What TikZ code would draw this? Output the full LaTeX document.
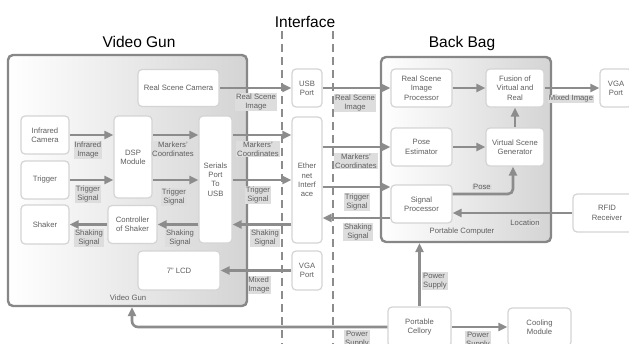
\documentclass[tikz,border=0pt]{standalone}
\usepackage{fontspec}
\setmainfont{Liberation Sans}
\usepackage{tikz}
\usetikzlibrary{shapes,arrows.meta,positioning,calc}
\definecolor{flowgray}{RGB}{140,140,140}
\definecolor{boxline}{RGB}{212,212,212}
\definecolor{boxtext}{RGB}{95,95,95}
\definecolor{sigfill}{RGB}{221,221,221}
\definecolor{groupline}{RGB}{135,135,135}
\definecolor{groupshade}{RGB}{212,212,212}
\tikzstyle{block} = [draw=boxline, fill=white, rectangle, rounded corners=4pt, line width=1.2pt, align=center, inner sep=1pt, text=boxtext, font=\fontsize{7.7}{9.3}\selectfont]
\tikzstyle{group} = [draw=groupline, rectangle, rounded corners=5pt, line width=2.4pt, left color=white, right color=groupshade]
\tikzstyle{grouplabel} = [text=boxtext, font=\fontsize{7.7}{9.3}\selectfont]
\tikzstyle{sig} = [fill=sigfill, text=boxtext, inner sep=0.8pt, align=center, font=\fontsize{7.7}{9.3}\selectfont]
\tikzstyle{flow} = [->, draw=flowgray, line width=2.6pt]
\tikzstyle{divider} = [draw=flowgray, dash pattern=on 8pt off 5pt, line width=1.4pt]
\tikzstyle{title} = [anchor=base, font=\fontsize{15.5}{18}\selectfont]

\begin{document}
\begin{tikzpicture}[x=1pt, y=-1pt, >={Triangle[length=9pt, width=8pt]}]
  \useasboundingbox (0,0) rectangle (629,343);

  % Containers
  \node [group, minimum width=239pt, minimum height=251pt] (vg) at (127.5,180.5) {};
  \node [group, minimum width=170pt, minimum height=185pt] (pc) at (466,149.5) {};
  \node [grouplabel] (vglab) at (128,298) {Video Gun};
  \node [grouplabel] (pclab) at (462,232) {Portable Computer};

  % Titles
  \node [title] (tvg) at (139,47) {Video Gun};
  \node [title] (tif) at (305,27) {Interface};
  \node [title] (tbb) at (462,47) {Back Bag};

  % Interface borders
  \coordinate (dla) at (282,31);
  \coordinate (dlb) at (282,350);
  \coordinate (dra) at (333,31);
  \coordinate (drb) at (333,350);
  \draw [divider] (dla) -- (dlb);
  \draw [divider] (dra) -- (drb);

  % Nodes
  \node [block, minimum width=81pt, minimum height=37pt] (rscam) at (178.5,88) {Real Scene Camera};
  \node [block, minimum width=48pt, minimum height=38pt] (ircam) at (45,135) {Infrared\\Camera};
  \node [block, minimum width=48pt, minimum height=38pt] (trig) at (45,180) {Trigger};
  \node [block, minimum width=48pt, minimum height=39pt] (shaker) at (45,224.5) {Shaker};
  \node [block, minimum width=38pt, minimum height=82pt] (dsp) at (133,157) {DSP\\Module};
  \node [block, minimum width=49pt, minimum height=38pt] (ctrl) at (132.5,224.5) {Controller\\of Shaker};
  \node [block, minimum width=33pt, minimum height=127pt] (serial) at (215.5,179.5) {Serials\\Port\\To\\USB};
  \node [block, minimum width=82pt, minimum height=39pt] (lcd) at (179,270.5) {7'' LCD};
  \node [block, minimum width=30pt, minimum height=38pt] (usb) at (307,88) {USB\\Port};
  \node [block, minimum width=30pt, minimum height=126pt] (eth) at (307,180) {Ether\\net\\Interf\\ace};
  \node [block, minimum width=30pt, minimum height=39pt] (vgai) at (307,270.5) {VGA\\Port};
  \node [block, minimum width=61pt, minimum height=38pt] (rsip) at (421.5,88) {Real Scene\\Image\\Processor};
  \node [block, minimum width=58pt, minimum height=38pt] (fusion) at (515,88) {Fusion of\\Virtual and\\Real};
  \node [block, minimum width=61pt, minimum height=38pt] (pose) at (421.5,147) {Pose\\Estimator};
  \node [block, minimum width=58pt, minimum height=38pt] (vsg) at (515,147) {Virtual Scene\\Generator};
  \node [block, minimum width=61pt, minimum height=38pt] (sigp) at (421.5,204) {Signal\\Processor};
  \node [block, minimum width=32pt, minimum height=38pt] (vgao) at (616,88) {VGA\\Port};
  \node [block, minimum width=68pt, minimum height=38pt] (rfid) at (607,213) {RFID\\Receiver};
  \node [block, minimum width=63pt, minimum height=40pt] (cell) at (419.5,327) {Portable\\Cellory};
  \node [block, minimum width=63pt, minimum height=38pt] (cool) at (539.5,327) {Cooling\\Module};

  % Path
  \coordinate (sigin) at ([yshift=17pt]sigp.west);
  \coordinate (sigout) at ([yshift=-14pt]sigp.west);
  \coordinate (vgin) at ([xshift=4.5pt]vg.south);
  \draw [flow] (rscam) -- (usb);
  \draw [flow] (ircam) -- (dsp.west |- ircam);
  \draw [flow] (trig) -- (dsp.west |- trig);
  \draw [flow] (dsp.east |- ircam) -- (serial.west |- ircam);
  \draw [flow] (dsp.east |- trig) -- (serial.west |- trig);
  \draw [flow] (serial.east |- ircam) -- (eth.west |- ircam);
  \draw [flow] (serial.east |- trig) -- (eth.west |- trig);
  \draw [flow] (eth.west |- shaker) -- (serial.east |- shaker);
  \draw [flow] (serial.west |- shaker) -- (ctrl);
  \draw [flow] (ctrl) -- (shaker);
  \draw [flow] (vgai) -- (lcd);
  \draw [flow] (usb) -- (rsip);
  \draw [flow] (eth.east |- pose) -- (pose);
  \draw [flow] (eth.east |- sigin) -- (sigin);
  \draw [flow] (sigout) -- (eth.east |- sigout);
  \draw [flow] (rsip) -- (fusion);
  \draw [flow] (pose) -- (vsg);
  \draw [flow] (vsg) -- (fusion);
  \draw [flow, rounded corners=5pt] ([yshift=10pt]sigp.east) -| ([xshift=-2pt]vsg.south);
  \draw [flow] (fusion) -- (vgao);
  \draw [flow] (rfid) -- (sigp.east |- rfid);
  \draw [flow] (cell) -- (cool);
  \draw [flow] (cell) -- (cell |- pc.south);
  \draw [flow, rounded corners=6pt] (cell) -| (vgin);

  % Annotations
  \node [sig] (l1) at (256,102) {Real Scene\\Image};
  \node [sig] (l2) at (88,150) {Infrared\\Image};
  \node [sig] (l3) at (88,194) {Trigger\\Signal};
  \node [sig] (l4) at (173,149) {Markers'\\Coordinates};
  \node [sig] (l5) at (174,197) {Trigger\\Signal};
  \node [sig] (l6) at (258,149) {Markers'\\Coordinates};
  \node [sig] (l7) at (258,195) {Trigger\\Signal};
  \node [sig] (l8) at (265,238) {Shaking\\Signal};
  \node [sig] (l9) at (180,238) {Shaking\\Signal};
  \node [sig] (l10) at (89,238) {Shaking\\Signal};
  \node [sig, align=left] (l11) at (259,285) {Mixed\\Image};
  \node [sig] (l12) at (355,103) {Real Scene\\Image};
  \node [sig] (l13) at (356,161) {Markers'\\Coordinates};
  \node [sig] (l14) at (357,202) {Trigger\\Signal};
  \node [sig] (l15) at (358,232) {Shaking\\Signal};
  \node [sig] (l16) at (482,187) {Pose};
  \node [sig] (l17) at (571,99) {Mixed Image};
  \node [sig] (l18) at (525,223) {Location};
  \node [sig, align=left] (l19) at (435,281) {Power\\Supply};
  \node [sig] (l20) at (478,340) {Power\\Supply};
  \node [sig] (l21) at (357,339) {Power\\Supply};
\end{tikzpicture}
\end{document}
